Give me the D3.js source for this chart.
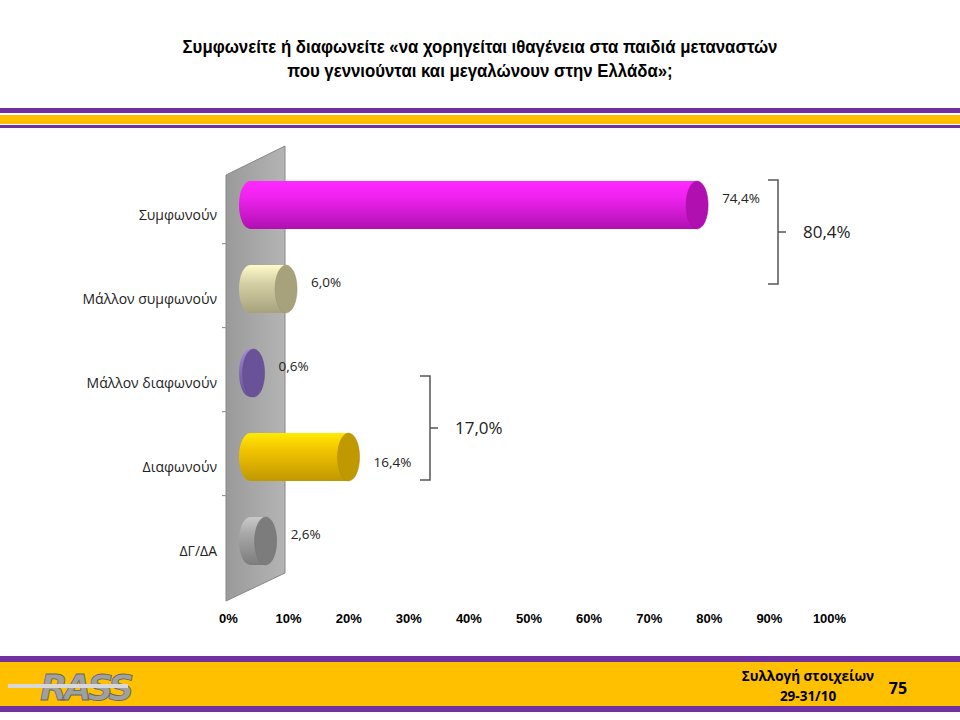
<!DOCTYPE html><html><head><meta charset="utf-8"><script src="https://d3js.org/d3.v7.min.js"></script>
<style>body{margin:0;background:#fff}svg{display:block}</style></head><body>
<script>
const categories=["Συμφωνούν","Μάλλον συμφωνούν","Μάλλον διαφωνούν","Διαφωνούν","ΔΓ/ΔΑ"];
const values=[74.4,6.0,0.6,16.4,2.6];
const labels=["74,4%","6,0%","0,6%","16,4%","2,6%"];
const colors=["#ee22ee","#d8d2a8","#8a72b8","#f2c400","#a8a8a8"];
const darks=["#b010b0","#a8a27c","#6a5298","#c09800","#7c7c7c"];
const ticks=[0,10,20,30,40,50,60,70,80,90,100];
const groups=[{from:0,to:1,label:"80,4%"},{from:2,to:3,label:"17,0%"}];

const svg=d3.select("body").append("svg").attr("width",960).attr("height",720);
const defs=svg.append("defs");
svg.append("text").attr("x",480).attr("y",53).attr("text-anchor","middle").attr("font-family","Liberation Sans, Arial").attr("font-weight","bold").attr("font-size",17.5)
 .attr("transform","translate(480,0) scale(0.96,1) translate(-480,0)")
 .selectAll("tspan").data(["Συμφωνείτε ή διαφωνείτε «να χορηγείται ιθαγένεια στα παιδιά μεταναστών","που γεννιούνται και μεγαλώνουν στην Ελλάδα»;"]).join("tspan").attr("x",480).attr("dy",(d,i)=>i?24:0).text(d=>d);
svg.append("rect").attr("x",0).attr("y",108).attr("width",960).attr("height",5).attr("fill","#7030a0");
svg.append("rect").attr("x",0).attr("y",115).attr("width",960).attr("height",9).attr("fill","#ffc000");
svg.append("rect").attr("x",0).attr("y",125).attr("width",960).attr("height",3).attr("fill","#7030a0");
svg.append("rect").attr("x",0).attr("y",656).attr("width",960).attr("height",6).attr("fill","#7030a0");
svg.append("rect").attr("x",0).attr("y",662).attr("width",960).attr("height",44).attr("fill","#ffc000");
svg.append("rect").attr("x",0).attr("y",706).attr("width",960).attr("height",6).attr("fill","#7030a0");
svg.append("text").attr("x",40).attr("y",700).attr("font-family","DejaVu Sans").attr("font-style","italic").attr("font-weight","bold").attr("font-size",36).attr("fill","#a0a0a0").attr("stroke","#666").attr("stroke-width",0.8).attr("letter-spacing",-4).text("RASS");
svg.append("rect").attr("x",8).attr("y",684).attr("width",120).attr("height",4).attr("fill","#d8d8d8");
svg.append("text").attr("x",808).attr("y",681).attr("text-anchor","middle").attr("font-family","Open Sans").attr("font-weight","bold").attr("font-size",13.5).text("Συλλογή στοιχείων");
svg.append("text").attr("x",808).attr("y",701).attr("text-anchor","middle").attr("font-family","Open Sans").attr("font-weight","bold").attr("font-size",13.5).text("29-31/10");
svg.append("text").attr("x",898).attr("y",694).attr("text-anchor","middle").attr("font-family","Open Sans").attr("font-weight","bold").attr("font-size",16).text("75");

const x=d3.scaleLinear().domain([0,100]).range([228,829]);
const y=d3.scaleBand().domain(categories).range([163,583]).paddingInner(0.4).paddingOuter(0.2);
const wg=defs.append("linearGradient").attr("id","wall").attr("x1",0).attr("x2",1);
wg.append("stop").attr("offset",0).attr("stop-color","#9a9a9a");wg.append("stop").attr("offset",1).attr("stop-color","#b4b4b4");
svg.append("path").attr("d","M226,175 L285,146 L285,573 L226,601 Z").attr("fill","url(#wall)").attr("stroke","#888");
const ax=svg.append("g").attr("transform","translate(0,602)").call(d3.axisBottom(x).tickValues(ticks).tickFormat(d=>d+"%").tickSize(0).tickPadding(12));
ax.select(".domain").remove();
ax.selectAll("text").attr("font-family","Liberation Sans, Arial").attr("font-weight","bold").attr("font-size",13).attr("fill","#000");
svg.selectAll(".cat").data(categories).join("text").attr("x",217).attr("y",d=>y(d)+y.bandwidth()/2+5+10).attr("text-anchor","end")
 .attr("font-family","Open Sans").attr("font-size",14).attr("fill","#222").text(d=>d);
svg.selectAll(".tk").data(categories.slice(1)).join("line").attr("x1",222).attr("x2",226).attr("y1",d=>y(d)-y.bandwidth()*0.4).attr("y2",d=>y(d)-y.bandwidth()*0.4).attr("stroke","#888");
const dx=22;
categories.forEach((c,i)=>{
 const g=defs.append("linearGradient").attr("id","g"+i).attr("x1",0).attr("x2",0).attr("y1",0).attr("y2",1);
 g.append("stop").attr("offset",0).attr("stop-color",d3.color(colors[i]).brighter(0.5));
 g.append("stop").attr("offset",0.35).attr("stop-color",colors[i]);
 g.append("stop").attr("offset",1).attr("stop-color",darks[i]);
});
const h=y.bandwidth()*0.95, rx=11;
const yc=c=>y(c)+y.bandwidth()/2;
const bars=svg.selectAll(".bar").data(values).join("g");
bars.append("path").attr("d",(v,i)=>{const y0=yc(categories[i])-h/2,x0=x(0)+dx,x1=x(v)+dx;
 return `M${x0},${y0} L${x1},${y0} L${x1},${y0+h} L${x0},${y0+h} A${rx},${h/2} 0 0 1 ${x0},${y0} Z`;}).attr("fill",(v,i)=>`url(#g${i})`);
bars.append("ellipse").attr("cx",(v,i)=>x(v)+dx).attr("cy",(v,i)=>yc(categories[i])).attr("rx",rx).attr("ry",h/2).attr("fill",(v,i)=>darks[i]).attr("stroke",(v,i)=>d3.color(darks[i]).darker(0.3)).attr("stroke-width",0.5);
svg.selectAll(".vl").data(values).join("text").attr("x",(v,i)=>x(v)+dx+rx+14).attr("y",(v,i)=>yc(categories[i])+(i===3?10:-2))
 .attr("font-family","Open Sans").attr("font-size",13.5).attr("fill","#222").text((v,i)=>labels[i]);
groups.forEach(gp=>{
 const first=gp.from===0;
 const top=yc(categories[gp.from])+(first?-25:3), bot=yc(categories[gp.to])+(first?-5:23);
 const bx=first?778:430; const mid=(top+bot)/2;
 svg.append("path").attr("d",`M${bx-10},${top} L${bx},${top} L${bx},${bot} L${bx-10},${bot} M${bx},${mid} L${bx+8},${mid}`).attr("fill","none").attr("stroke","#555").attr("stroke-width",1.5);
 svg.append("text").attr("x",bx+25).attr("y",mid+6).attr("font-family","Open Sans").attr("font-size",17).attr("fill","#222").text(gp.label);
});
</script></body></html>
